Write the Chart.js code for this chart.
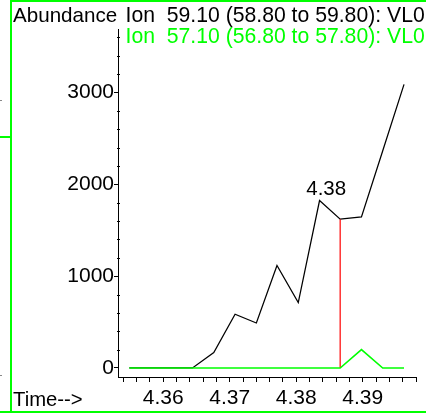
<!DOCTYPE html>
<html>
<head>
<meta charset="utf-8">
<script src="https://cdn.jsdelivr.net/npm/chart.js@4/dist/chart.umd.min.js"></script>
<style>
  html, body { margin:0; padding:0; background:#fff; }
  #wrap { position:relative; width:426px; height:415px; overflow:hidden; background:#fff; font-family:"Liberation Sans", Arial, sans-serif; }
  #c { position:absolute; left:0; top:0; }
  .t { position:absolute; white-space:pre; }
  .ln { position:absolute; background:#00ff00; }
</style>
</head>
<body>
<div id="wrap">
  <canvas id="c" width="426" height="415"></canvas>
  <div class="t" id="abund" style="left:13px; top:3.5px; font-size:20.6px; line-height:21px; color:#000;">Abundance</div>
  <div class="t" id="ion1" style="left:125.5px; top:3.5px; font-size:21.2px; line-height:21px; color:#000;"></div>
  <div class="t" id="ion2" style="left:125.5px; top:24.5px; font-size:21.2px; line-height:21px; color:#00ff00;"></div>
  <div class="t" id="timeLbl" style="left:13px; top:389px; font-size:20.3px; line-height:20px; color:#000;">Time--&gt;</div>
  <div class="ln" style="left:10px; top:0; width:2px; height:413px;"></div>
  <div class="ln" style="left:12px; top:0; width:414px; height:2px;"></div>
  <div class="ln" style="left:0; top:411px; width:426px; height:2px;"></div>
  <div class="ln" style="left:0; top:136px; width:10px; height:1.5px;"></div>
  <div style="position:absolute; left:0; top:100px; width:2px; height:1px; background:#888;"></div>
  <div style="position:absolute; left:0; top:375px; width:2px; height:1px; background:#888;"></div>
</div>
<script>
// ---- data ----
const times  = [4.3549, 4.3581, 4.3612, 4.3644, 4.3676, 4.3708, 4.3740, 4.3771, 4.3803, 4.3835, 4.3866, 4.3898, 4.3930, 4.3962];
const ion59  = [0, 0, 0, 0, 168, 585, 490, 1115, 712, 1823, 1620, 1645, 2365, 3087];
const ion57  = [0, 0, 0, 0, 0, 0, 0, 0, 0, 0, 0, 200, 0, 0];
const markerTime = 4.3866;
const markerTop  = 1620;
const peakLabel  = "4.38";
const peakLabelTime = 4.3845;
const peakLabelValue = 1823;
const seriesNames = ["Ion  59.10 (58.80 to 59.80): VL0", "Ion  57.10 (56.80 to 57.80): VL0"];
const xMajorTicks = [4.36, 4.37, 4.38, 4.39];
const xMinorStep = 0.002, xMinorFrom = 4.354, xMinorTo = 4.398;
const yMajorTicks = [0, 1000, 2000, 3000];
const yMinorStep = 200, yMinorTo = 3600;
const xMin = 4.3532, xMax = 4.398;
const yMin = -98, yMax = 3690;

document.getElementById('ion1').textContent = seriesNames[0];
document.getElementById('ion2').textContent = seriesNames[1];

const xTickValues = [];
for (let v = xMinorFrom; v <= xMinorTo + 1e-9; v += xMinorStep) xTickValues.push(Math.round(v * 1000) / 1000);

const FONT = "'Liberation Sans', Arial, sans-serif";
const GREEN = '#00ff00';

const extrasPlugin = {
  id: 'extras',
  afterDraw(chart) {
    const ctx = chart.ctx;
    const xs = chart.scales.x, ys = chart.scales.y;
    ctx.save();
    ctx.strokeStyle = '#000';
    ctx.lineWidth = 1;
    const left = chart.chartArea.left;
    for (let v = yMinorStep; v <= yMinorTo; v += yMinorStep) {
      if (yMajorTicks.includes(v)) continue;
      const y = Math.round(ys.getPixelForValue(v)) + 0.5;
      ctx.beginPath();
      ctx.moveTo(left - 1, y);
      ctx.lineTo(left + 2, y);
      ctx.stroke();
    }
    ctx.fillStyle = '#000';
    ctx.font = '20.5px ' + FONT;
    ctx.textAlign = 'center';
    ctx.textBaseline = 'alphabetic';
    ctx.fillText(peakLabel, xs.getPixelForValue(peakLabelTime), ys.getPixelForValue(peakLabelValue) - 6);
    ctx.restore();
  }
};

new Chart(document.getElementById('c'), {
  type: 'line',
  data: {
    datasets: [
      { label: 'ion57', data: times.map((t, i) => ({ x: t, y: ion57[i] })), borderColor: GREEN, borderWidth: 1.6, pointRadius: 0, tension: 0, order: 0 },
      { label: 'marker', data: [{ x: markerTime, y: 0 }, { x: markerTime, y: markerTop }], borderColor: '#ff0000', borderWidth: 1.2, pointRadius: 0, order: 1 },
      { label: 'ion59', data: times.map((t, i) => ({ x: t, y: ion59[i] })), borderColor: '#000', borderWidth: 1.25, pointRadius: 0, tension: 0, order: 2 }
    ]
  },
  options: {
    responsive: false,
    animation: false,
    events: [],
    layout: { padding: { top: 29, right: 10, left: 0, bottom: 0 } },
    plugins: { legend: { display: false }, tooltip: { enabled: false }, title: { display: false } },
    scales: {
      x: {
        type: 'linear', min: xMin, max: xMax,
        afterBuildTicks: s => { s.ticks = xTickValues.map(v => ({ value: v })); },
        afterFit: s => { s.height = 38; },
        ticks: {
          autoSkip: false, maxRotation: 0, minRotation: 0, padding: 4, color: '#000',
          font: { family: FONT, size: 21 },
          callback: v => { const m = xMajorTicks.find(t => Math.abs(t - v) < 1e-6); return m !== undefined ? m.toFixed(2) : ''; }
        },
        grid: { drawOnChartArea: false, drawTicks: true, tickLength: 5, tickColor: '#000', color: '#000' },
        border: { display: true, color: '#000', width: 1 }
      },
      y: {
        type: 'linear', min: yMin, max: yMax,
        afterBuildTicks: s => { s.ticks = yMajorTicks.map(v => ({ value: v })); },
        afterFit: s => { s.width = 118; },
        ticks: { padding: 0, color: '#000', font: { family: FONT, size: 21 }, callback: v => String(v) },
        grid: { drawOnChartArea: false, drawTicks: true, tickLength: 4, tickColor: '#000', color: '#000' },
        border: { display: true, color: '#000', width: 1 }
      }
    }
  },
  plugins: [extrasPlugin]
});
</script>
</body>
</html>
